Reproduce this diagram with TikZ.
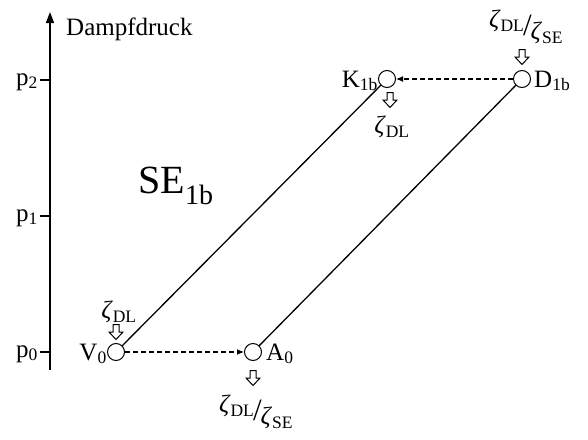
\documentclass[tikz,border=0pt]{standalone}
\usepackage{fontspec}
\setmainfont{Liberation Serif}
\usetikzlibrary{arrows.meta}
\newcommand\zt{\textit{ζ}}
\newcommand\zsub[1]{\zt\textsubscript{#1}}
\newcommand\zfrac{\raisebox{0.32em}{\zsub{DL}}\kern-0.05em{\fontsize{31}{33}\selectfont/}\kern-0.05em\raisebox{-0.18em}{\zsub{SE}}}
\tikzset{
  txt/.style={font=\fontsize{25}{29}\selectfont, inner sep=0pt},
  big/.style={font=\fontsize{40}{46}\selectfont, inner sep=0pt},
  state/.style={circle, draw, line width=1pt, minimum size=17pt, inner sep=0pt, fill=white},
  conn/.style={line width=1.3pt},
  flow/.style={line width=1.2pt, dash pattern=on 5pt off 3pt, -{Latex[length=7pt,width=6pt]}},
  axisline/.style={line width=1.4pt, -{Triangle[length=11pt,width=8pt]}},
  inarr/.pic={\draw[line width=1pt, fill=white] (-3,-7.5) -- (3,-7.5) -- (3,0) -- (7,0) -- (0,7.5) -- (-7,0) -- (-3,0) -- cycle;}
}
\begin{document}
\begin{tikzpicture}[x=1pt,y=-1pt]
\useasboundingbox (0,0) rectangle (588,439);
% axis
\coordinate (axb) at (50,370);
\coordinate (axt) at (50,12);
\draw[axisline] (axb) -- (axt);
\node[txt, anchor=base west] (yl) at (66,35) {Dampfdruck};
% ticks
\coordinate (t2a) at (50,80);  \coordinate (t2b) at (40,80);
\coordinate (t1a) at (50,216); \coordinate (t1b) at (40,216);
\coordinate (t0a) at (50,352); \coordinate (t0b) at (40,352);
\draw[conn] (t2a) -- (t2b);
\draw[conn] (t1a) -- (t1b);
\draw[conn] (t0a) -- (t0b);
\node[txt, anchor=base east] (p2) at (38,85) {p\textsubscript{2}};
\node[txt, anchor=base east] (p1) at (38,221) {p\textsubscript{1}};
\node[txt, anchor=base east] (p0) at (38,357) {p\textsubscript{0}};
% big label
\node[big] (se) at (176,186) {SE\textsubscript{1b}};
% states
\node[state] (V0) at (116,352) {};
\node[state] (A0) at (253,352) {};
\node[state] (K1b) at (387,79) {};
\node[state] (D1b) at (522,79) {};
% lines
\draw[conn] (V0) -- (K1b);
\draw[conn] (A0) -- (D1b);
\draw[flow] (V0) -- (A0);
\draw[flow] (D1b) -- (K1b);
% state labels
\node[txt, anchor=base east] (lV0) at (107,360) {V\textsubscript{0}};
\node[txt, anchor=base west] (lA0) at (266,360) {A\textsubscript{0}};
\node[txt, anchor=base east] (lK1b) at (378,87) {K\textsubscript{1b}};
\node[txt, anchor=base west] (lD1b) at (534,87) {D\textsubscript{1b}};
% inflow / outflow arrows
\pic at (116,332) {inarr};
\pic at (253,378) {inarr};
\pic at (390,100) {inarr};
\pic at (522,57) {inarr};
% zeta labels
\node[txt] (zV0) at (119,312) {\zsub{DL}};
\node[txt] (zA0) at (256,412) {\zfrac};
\node[txt] (zK1b) at (392,127) {\zsub{DL}};
\node[txt] (zD1b) at (526,27) {\zfrac};
\end{tikzpicture}
\end{document}
